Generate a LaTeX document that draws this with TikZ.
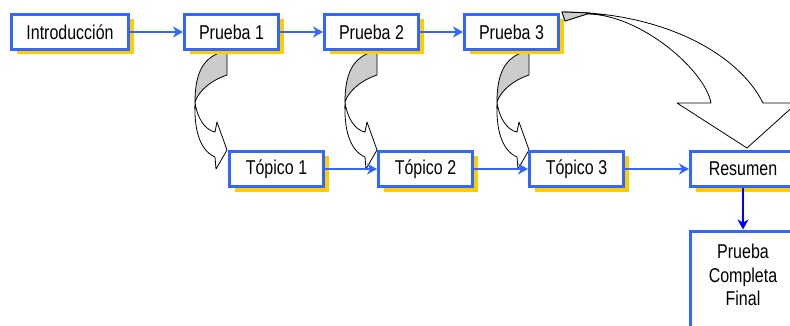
\documentclass[tikz,border=0pt]{standalone}
\usepackage{fontspec}
\setmainfont[FakeStretch=0.8]{Liberation Sans}
\usetikzlibrary{arrows.meta,shadows}
\definecolor{boxblue}{RGB}{51,102,255}
\definecolor{downblue}{RGB}{0,0,255}
\definecolor{shadowyellow}{RGB}{255,204,0}
\definecolor{twistgray}{RGB}{204,204,204}
\tikzset{
  stage/.style={draw=boxblue, line width=3pt, fill=white, inner sep=0pt,
    minimum width=94pt, minimum height=35pt, font=\fontsize{20}{23.5}\selectfont,
    general shadow={fill=shadowyellow, shadow xshift=5pt, shadow yshift=-5pt}},
  link/.style={draw=boxblue, line width=1.5pt, -{Stealth[length=10pt,width=11pt,inset=3pt]}},
  twistline/.style={draw=black, line width=.8pt, line join=round},
}

\begin{document}
\begin{tikzpicture}[x=1pt,y=-1pt]
    \useasboundingbox (0,0) rectangle (790,326);
    \clip (0,0) rectangle (790,326);

    % twisted arrows from each test down to its topic
    \foreach \X in {227,377,529} {
        \filldraw[twistline, fill=twistgray] (\X-5,52) -- (\X,52) -- (\X,75)
            .. controls (\X-15,80) and (\X-28,90) .. (\X-32,102)
            .. controls (\X-32,75) and (\X-25,58) .. cycle;
        \filldraw[twistline, fill=white] (\X-32,102)
            .. controls (\X-30,118) and (\X-22,130) .. (\X-12,132)
            -- (\X-10,122) -- (\X,150) -- (\X-11,169) -- (\X-12,157)
            .. controls (\X-28,150) and (\X-33,128) .. cycle;
    }

    \node[stage, minimum width=117pt] (intro) at (70,32) {Introducción};
    \foreach \x/\i in {231.5/1,371.5/2,511.5/3} {
        \node[stage] (p\i) at (\x,32) {Prueba \i};
    }
    \foreach \x/\i in {276.5/1,425.5/2,576.5/3} {
        \node[stage] (t\i) at (\x,169) {Tópico \i};
    }
    \node[stage, minimum width=105pt] (res) at (743,169) {Resumen};
    \node[stage, minimum width=105pt, minimum height=120pt, anchor=north] (fin) at (743,229.5) {};
    \node[font=\fontsize{20}{23.5}\selectfont, align=center] (fintext) at (743,275) {Prueba\\Completa\\Final};

    \draw[link] (intro) -- (p1);
    \draw[link] (p1) -- (p2);
    \draw[link] (p2) -- (p3);
    \draw[link] (t1) -- (t2);
    \draw[link] (t2) -- (t3);
    \draw[link] (t3) -- (res);
    \draw[link, draw=downblue] (res.south) -- (fin.north);

    % big arrow from the last test over to the summary
    \filldraw[twistline, fill=white] (562,12) .. controls (662,12) and (738,53) .. (763,103)
        -- (797,103) -- (747,148) -- (677,103) -- (711,103)
        .. controls (705,70) and (640,14) .. (587,14) -- (565,21) -- cycle;
    \filldraw[twistline, fill=twistgray] (562,12) -- (590,13) -- (565,21) -- cycle;
\end{tikzpicture}
\end{document}
